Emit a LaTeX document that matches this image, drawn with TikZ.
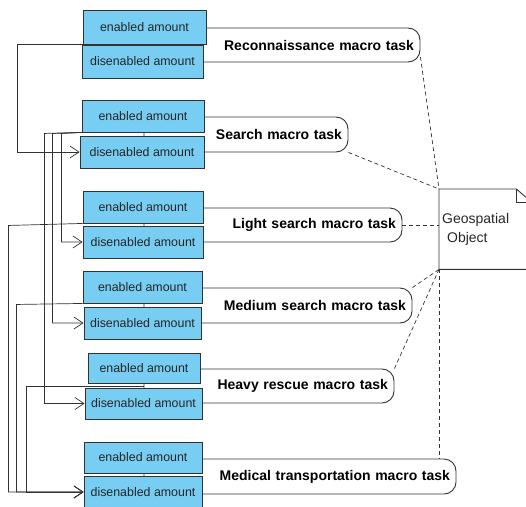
\documentclass[tikz,border=0pt]{standalone}
\usepackage{fontspec}
\setmainfont{Liberation Sans}
\usetikzlibrary{arrows.meta}
\definecolor{boxblue}{RGB}{120,205,242}
\definecolor{linegray}{RGB}{50,50,50}

\begin{document}
\begin{tikzpicture}
  [x=1pt,y=-1pt,
   amount/.style={rectangle, draw=linegray, fill=boxblue, line width=0.9pt, inner sep=0pt, minimum width=120pt, minimum height=32pt, font=\fontsize{12.4}{14}\selectfont, text=black!85},
   task/.style={rectangle, rounded corners=12pt, draw=linegray, line width=0.9pt, inner xsep=6pt, inner ysep=0pt, minimum height=34pt, align=right, font=\bfseries\fontsize{14}{16}\selectfont},
   flow/.style={draw=linegray, line width=0.7pt, -{Straight Barb[length=9pt,width=12pt]}},
   link/.style={draw=linegray, line width=0.7pt, dash pattern=on 4pt off 3pt}]

 \useasboundingbox (0,0) rectangle (526,506);
 \clip (0,0) rectangle (526,506);

 % macro tasks
 \node[task, text width=264pt] (recon) at (282,45) {Reconnaissance macro task};
 \node[task, text width=192pt, minimum height=35pt] (search) at (246,134.5) {Search macro task};
 \node[task, text width=246pt] (light) at (273,225) {Light search macro task};
 \node[task, text width=256pt, minimum height=35pt] (medium) at (278,305.5) {Medium search macro task};
 \node[task, text width=238pt] (heavy) at (269,386) {Heavy rescue macro task};
 \node[task, text width=300pt, minimum height=35pt] (medical) at (300,476.5) {Medical transportation macro task};

 % amounts
 \node[amount, minimum width=123pt, minimum height=34pt] (ren) at (144.5,27) {enabled amount};
 \node[amount, minimum width=121pt, minimum height=33pt] (rdis) at (142.5,61.5) {disenabled amount};
 \node[amount, minimum width=122pt] (sen) at (143,116) {enabled amount};
 \node[amount, minimum width=124pt] (sdis) at (142,152) {disenabled amount};
 \node[amount] (len) at (143,207) {enabled amount};
 \node[amount] (ldis) at (143,242) {disenabled amount};
 \node[amount, minimum width=119pt] (men) at (142.5,287) {enabled amount};
 \node[amount, minimum width=117pt] (mdis) at (142.5,323) {disenabled amount};
 \node[amount, minimum width=112pt, minimum height=30pt] (hen) at (144,368) {enabled amount};
 \node[amount, minimum width=117pt, minimum height=31pt] (hdis) at (143.5,403.5) {disenabled amount};
 \node[amount, minimum width=118pt, minimum height=31pt] (mden) at (143,457.5) {enabled amount};
 \node[amount, minimum width=118pt] (mddis) at (143,492) {disenabled amount};

 % geospatial object
 \node[anchor=north west, minimum width=92pt, minimum height=80pt, text width=86pt, inner xsep=2pt, align=left, font=\fontsize{14}{19}\selectfont, text=black!85] (geo) at (439,189) {Geospatial\\\hspace*{0.35em}Object};
 \draw[linegray, line width=0.9pt] (geo.south east) -- (geo.south west) -- (geo.north west) -- ([xshift=-15pt]geo.north east) -- ([yshift=-13pt]geo.north east) -- (geo.south east);
 \draw[linegray, line width=0.9pt] ([xshift=-15pt]geo.north east) |- ([yshift=-13pt]geo.north east);

 \draw[link] ([yshift=-12pt]recon.east) -- (geo.north west);
 \draw[link] (search.south east) -- (geo.north west);
 \draw[link] (light.east) -- (geo.west |- light.east);
 \draw[link] (medium.north east) -- (geo.south west);
 \draw[link] (heavy.north east) -- (geo.south west);
 \draw[link] (geo.south west) -- (geo.south west |- medical.north);

 % enabling flows
 \draw[flow] (ren.south west) -- ++(-65,0) |- (sdis.west);
 \draw[flow] (sen.south west) -- ++(-20,1) |- (ldis.west);
 \draw[flow] (sen.south west) -- ++(-29,1) |- (mdis.west);
 \draw[flow] (sen.south west) -- ++(-37,1) |- (hdis.west);
 \draw[flow] (len.south west) -- ++(-74,2) |- (mddis.west);
 \draw[flow] (men.south west) -- ++(-66,1) |- (mddis.west);
 \draw[flow] (heavy.west) -- ++(-117,0) |- (mddis.west);

\end{tikzpicture}
\end{document}
